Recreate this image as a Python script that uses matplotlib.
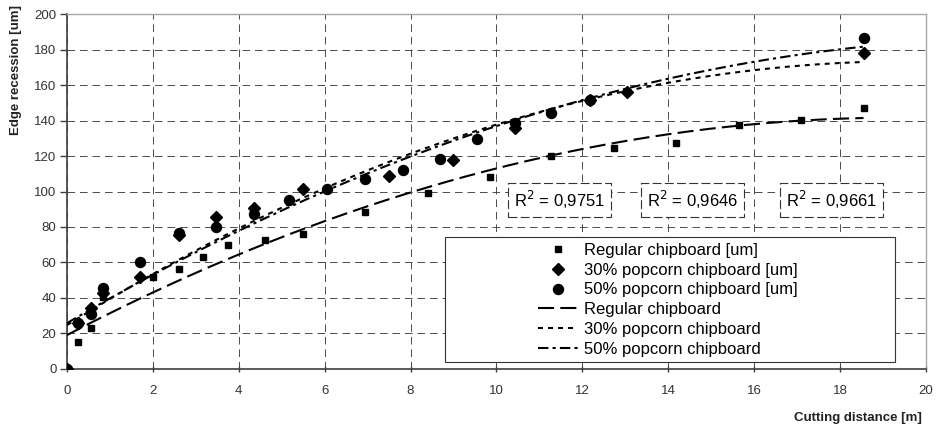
import numpy as np
import matplotlib.pyplot as plt
from matplotlib.patches import Rectangle

plt.rcParams['font.family'] = ['Liberation Sans', 'DejaVu Sans']

reg_x = [0, 0.25, 0.56, 0.83, 2.0, 2.6, 3.16, 3.75, 4.62, 5.5, 6.95, 8.4, 9.84,
         11.28, 12.74, 14.19, 15.65, 17.1, 18.55]
reg_y = [0, 15, 23.3, 40.7, 52, 56.5, 63.3, 70, 72.7, 76, 88.6, 99, 108,
         120, 124.3, 127.5, 137.3, 140.3, 147.2]

p30_x = [0, 0.25, 0.56, 0.83, 1.71, 2.6, 3.47, 4.35, 5.5, 7.51, 8.99, 10.43,
         12.17, 13.05, 18.55]
p30_y = [0, 26, 34.2, 43, 51.7, 75.5, 85.8, 90.9, 101.4, 108.9, 117.7, 135.6,
         151.5, 155.9, 177.8]

p50_x = [0, 0.25, 0.56, 0.83, 1.71, 2.6, 3.47, 4.35, 5.18, 6.05, 6.95, 7.82,
         8.69, 9.55, 10.43, 11.28, 12.17, 18.55]
p50_y = [0, 25.7, 31, 45.4, 60.1, 76.4, 80.2, 87.3, 95.2, 101.4, 106.9, 112.1,
         118.3, 129.4, 138.4, 144, 151.5, 186.3]

r2_labels = ["0,9751", "0,9646", "0,9661"]
r2_pos_x = [11.47, 14.57, 17.81]
r2_pos_y = 95.2

fig = plt.figure(figsize=(9.38, 4.3), dpi=100)
ax = fig.add_axes([0.0714, 0.1419, 0.9156, 0.8255])

ax.plot(reg_x, reg_y, ls='none', marker='s', ms=4.3, color='black',
        label='Regular chipboard [um]', zorder=4)
ax.plot(p30_x, p30_y, ls='none', marker='D', ms=6, color='black',
        label='30% popcorn chipboard [um]', zorder=4)
ax.plot(p50_x, p50_y, ls='none', marker='o', ms=7.2, color='black',
        label='50% popcorn chipboard [um]', zorder=4)

# trendlines (2nd order polynomial fits, like the spreadsheet trendlines)
xs = np.linspace(0, 18.55, 200)
fit_reg = np.polyval(np.polyfit(reg_x, reg_y, 2), xs)
fit_30 = np.polyval(np.polyfit(p30_x, p30_y, 2), xs)
fit_50 = np.polyval(np.polyfit(p50_x, p50_y, 2), xs)

ax.plot(xs, fit_reg, color='black', lw=1.5, dashes=(7.7, 3),
        label='Regular chipboard', zorder=3)
ax.plot(xs, fit_30, color='black', lw=1.5, dashes=(2.4, 2.4),
        label='30% popcorn chipboard', zorder=3)
ax.plot(xs, fit_50, color='black', lw=1.5, dashes=(5, 2, 1.5, 2),
        label='50% popcorn chipboard', zorder=3)

ax.set_xlim(0, 20)
ax.set_ylim(0, 200)
ax.set_xticks(np.arange(0, 21, 2))
ax.set_yticks(np.arange(0, 201, 20))
ax.grid(True, color='#505050', lw=0.72, dashes=(7.6, 4.9))
ax.set_axisbelow(True)

ax.tick_params(axis='x', direction='inout', length=5, width=1, colors='#404040',
               labelsize=9.5, labelcolor='#333333', pad=9)
ax.tick_params(axis='y', direction='out', length=5, width=1, colors='#404040',
               labelsize=9.5, labelcolor='#333333', pad=2.5)
for s in ['left', 'bottom']:
    ax.spines[s].set_color('#404040')
    ax.spines[s].set_linewidth(1.2)
for s in ['top', 'right']:
    ax.spines[s].set_color('#a8a8a8')
    ax.spines[s].set_linewidth(1.0)

for lab, px in zip(r2_labels, r2_pos_x):
    ax.text(px, r2_pos_y, 'R$^2$ = ' + lab, fontsize=12, ha='center', va='center',
            zorder=5,
            bbox=dict(boxstyle='square,pad=0.35', fc='white', ec='#333333',
                      lw=0.8, ls=(0, (8, 3))))

# legend frame (wide box like the original) + frameless legend inside it
ax.add_patch(Rectangle((0.4398, 0.0197), 0.5240, 0.3521, transform=ax.transAxes,
                       fc='white', ec='#333333', lw=0.8, zorder=5))
leg = ax.legend(loc='upper left', bbox_to_anchor=(0.545, 0.365), frameon=False,
                fontsize=12, handlelength=2.4, handletextpad=0.35,
                labelspacing=0.29, borderpad=0.2, borderaxespad=0)
leg.set_zorder(6)

fig.text(0.017, 0.988, 'Edge recession [um]', rotation=90, ha='center', va='top',
         fontsize=9.5, fontweight='bold', color='#222222')
fig.text(0.9826, 0.029, 'Cutting distance [m]', ha='right', va='center',
         fontsize=9.5, fontweight='bold', color='#222222')

fig.savefig('out.png', dpi=100)
